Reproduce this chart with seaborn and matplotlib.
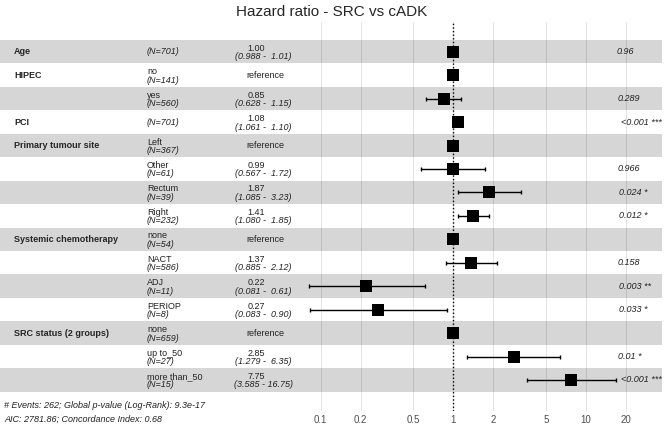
import numpy as np
import pandas as pd
import matplotlib
matplotlib.use("Agg")
import matplotlib.pyplot as plt
import matplotlib.transforms as mtransforms
import seaborn as sns

# ---------------- data ----------------
variables = ["Age", "HIPEC", "", "PCI", "Primary tumour site", "", "", "",
             "Systemic chemotherapy", "", "", "", "SRC status (2 groups)", "", ""]
levels = ["", "no", "yes", "", "Left", "Other", "Rectum", "Right",
          "none", "NACT", "ADJ", "PERIOP", "none", "up to_50", "more than_50"]
n_obs = [701, 141, 560, 701, 367, 61, 39, 232, 54, 586, 11, 8, 659, 27, 15]
hr = [1.00, np.nan, 0.85, 1.08, np.nan, 0.99, 1.87, 1.41,
      np.nan, 1.37, 0.22, 0.27, np.nan, 2.85, 7.75]
ci_low = [0.988, np.nan, 0.628, 1.061, np.nan, 0.567, 1.085, 1.080,
          np.nan, 0.885, 0.081, 0.083, np.nan, 1.279, 3.585]
ci_high = [1.01, np.nan, 1.15, 1.10, np.nan, 1.72, 3.23, 1.85,
           np.nan, 2.12, 0.61, 0.90, np.nan, 6.35, 16.75]
p_text = ["0.96", "", "0.289", "<0.001 ***", "", "0.966", "0.024 *", "0.012 *",
          "", "0.158", "0.003 **", "0.033 *", "", "0.01 *", "<0.001 ***"]
x_breaks = [0.1, 0.2, 0.5, 1, 2, 5, 10, 20]
footer = ["# Events: 262; Global p-value (Log-Rank): 9.3e-17",
          "AIC: 2781.86; Concordance Index: 0.68"]
title = "Hazard ratio - SRC vs cADK"

df = pd.DataFrame({"var": variables, "level": levels, "N": n_obs,
                   "hr": hr, "lo": ci_low, "hi": ci_high, "p": p_text})
df["row"] = np.arange(len(df), 0, -1)          # first row on top
df["is_ref"] = df["hr"].isna()
df["hr_plot"] = df["hr"].fillna(1.0)

# ---------------- figure ----------------
sns.set_style("white")
plt.rcParams["font.family"] = ["Liberation Sans", "DejaVu Sans"]

W, H = 667, 424
fig = plt.figure(figsize=(W / 100, H / 100), dpi=100)
ax = fig.add_axes([0, 13 / H, 662 / W, 389 / H])
ax.set_xscale("log")

px_one, px_dec = 453.3, 132.65
ax.set_xlim(10 ** ((0 - px_one) / px_dec), 10 ** ((662 - px_one) / px_dec))
row_px = 23.45
ax.set_ylim(1 - (411 - 380) / row_px, 15 + (51.7 - 22) / row_px)

# grid
for b in x_breaks:
    ax.axvline(b, color="#DEDEDE", lw=0.6, zorder=0)

# striped background
for r in df["row"]:
    if (len(df) - r) % 2 == 0:
        ax.axhspan(r - 0.5, r + 0.5, color="black", alpha=0.16, lw=0, zorder=1)

ax.axvline(1, color="black", lw=1.0, ls=(0, (1, 1.6)), zorder=2)

# error bars + points
ci = df[~df["is_ref"]]
ax.errorbar(ci["hr"], ci["row"], xerr=[ci["hr"] - ci["lo"], ci["hi"] - ci["hr"]],
            fmt="none", ecolor="black", elinewidth=1.0, capsize=1.6, capthick=1.0, zorder=3)
sns.scatterplot(data=df, x="hr_plot", y="row", marker="s", s=72, color="black",
                linewidth=0, ax=ax, zorder=4, legend=False)

# ---------------- table text ----------------
tr = mtransforms.blended_transform_factory(fig.transFigure, ax.transData)
fs = 6.5
up, dn = 0.04, 0.02
for _, d in df.iterrows():
    y = d["row"]
    if d["var"]:
        ax.text(14 / W, y, d["var"], transform=tr, fontsize=fs, fontweight="bold",
                ha="left", va="center")
    ntxt = f"(N={d['N']})"
    if d["level"]:
        ax.text(147 / W, y + up, d["level"], transform=tr, fontsize=fs,
                ha="left", va="baseline", color="#222222")
        ax.text(147 / W, y - dn, ntxt, transform=tr, fontsize=fs, style="italic",
                ha="left", va="top", color="#222222")
    else:
        ax.text(147 / W, y, ntxt, transform=tr, fontsize=fs, style="italic",
                ha="left", va="center", color="#222222")
    if d["is_ref"]:
        ax.text(265 / W, y, "reference", transform=tr, fontsize=fs,
                ha="center", va="center", color="#222222")
    else:
        ax.text(256 / W, y + up, f"{d['hr']:.2f}", transform=tr, fontsize=fs,
                ha="center", va="baseline", color="#222222")
        ax.text(263 / W, y - dn, f"({d['lo']:.3f} - {d['hi']:5.2f})", transform=tr,
                fontsize=fs, style="italic", ha="center", va="top", color="#222222")

p_items = []
for _, d in df.iterrows():
    if d["p"]:
        t = ax.text(613 / W, d["row"], d["p"], transform=tr, fontsize=fs, style="italic",
                    ha="left", va="center", color="#222222", clip_on=False)
        p_items.append(t)

ax.text(4 / W, 1 - (405 - 380) / row_px, footer[0], transform=tr, fontsize=fs,
        style="italic", ha="left", va="center", color="#222222", clip_on=False)
ax.text(4 / W, 1 - (419 - 380) / row_px, footer[1], transform=tr, fontsize=fs,
        style="italic", ha="left", va="center", color="#222222", clip_on=False)

fig.text(332 / W, 1 - 12 / H, title, fontsize=11, ha="center", va="center")

# axis cosmetics
ax.set_xticks(x_breaks)
ax.set_xticklabels([f"{b:g}" for b in x_breaks])
ax.xaxis.set_minor_locator(matplotlib.ticker.NullLocator())
ax.tick_params(axis="x", length=0, pad=3, labelsize=7, labelcolor="#4D4D4D")
ax.set_yticks([])
ax.set_xlabel("")
ax.set_ylabel("")
for s in ax.spines.values():
    s.set_visible(False)

# emulate hjust = -0.2 for the p-value column
fig.canvas.draw()
rend = fig.canvas.get_renderer()
for t in p_items:
    w = t.get_window_extent(rend).width
    x0, y0 = t.get_position()
    t.set_position((x0 + 0.2 * w / W, y0))

fig.savefig("out.png", dpi=100)
